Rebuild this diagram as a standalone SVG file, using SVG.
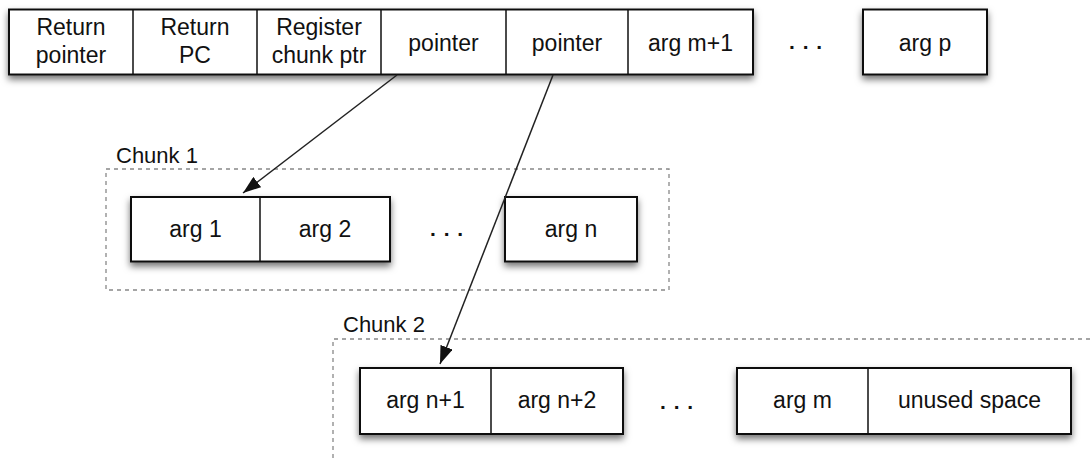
<svg xmlns="http://www.w3.org/2000/svg" width="1092" height="458" viewBox="0 0 1092 458">
  <defs>
    <filter id="shadow" x="-10%" y="-30%" width="120%" height="170%">
      <feDropShadow dx="0" dy="4" stdDeviation="3.5" flood-color="#000" flood-opacity="0.55"/>
    </filter>
    <marker id="arrow" viewBox="0 0 18 13" refX="18" refY="6.5" markerWidth="18" markerHeight="13" markerUnits="userSpaceOnUse" orient="auto">
      <path d="M0,0 L18,6.5 L0,13 Z" fill="#111"/>
    </marker>
  </defs>
  <style>
    .cell { fill: #fff; stroke: #111; stroke-width: 2; }
    .div { stroke: #111; stroke-width: 1.5; }
    .lbl { font-family: "Liberation Sans", Arial, sans-serif; font-size: 23px; fill: #111; text-anchor: middle; }
    .title { font-family: "Liberation Sans", Arial, sans-serif; font-size: 22px; fill: #111; }
    .dots { font-family: "Liberation Sans", Arial, sans-serif; font-size: 21px; font-weight: bold; fill: #111; letter-spacing: 7.8px; }
    .chunk { fill: none; stroke: #888; stroke-width: 1.3; stroke-dasharray: 4 4; }
    .link { fill: none; stroke: #222; stroke-width: 1.5; marker-end: url(#arrow); }
  </style>
  <rect width="1092" height="458" fill="#fff"/>

  <!-- chunk containers -->
  <g id="chunk1">
    <rect class="chunk" x="106" y="169" width="563" height="121"/>
    <text class="title" x="116" y="163">Chunk 1</text>
  </g>
  <g id="chunk2">
    <path class="chunk" d="M333,458 L333,339 L1092,339"/>
    <text class="title" x="343" y="332">Chunk 2</text>
  </g>

  <!-- frame row -->
  <g id="frame" filter="url(#shadow)">
    <rect class="cell" x="9" y="9.5" width="744" height="65"/>
    <line class="div" x1="133" y1="9.5" x2="133" y2="74.5"/>
    <line class="div" x1="257" y1="9.5" x2="257" y2="74.5"/>
    <line class="div" x1="381" y1="9.5" x2="381" y2="74.5"/>
    <line class="div" x1="506" y1="9.5" x2="506" y2="74.5"/>
    <line class="div" x1="628" y1="9.5" x2="628" y2="74.5"/>
  </g>
  <g id="return-pointer"><text class="lbl" x="71" y="35">Return</text><text class="lbl" x="71" y="63">pointer</text></g>
  <g id="return-pc"><text class="lbl" x="195" y="35">Return</text><text class="lbl" x="195" y="63">PC</text></g>
  <g id="register-chunk-ptr"><text class="lbl" x="319" y="35">Register</text><text class="lbl" x="319" y="63">chunk ptr</text></g>
  <g id="pointer1"><text class="lbl" x="443.5" y="51">pointer</text></g>
  <g id="pointer2"><text class="lbl" x="567" y="51">pointer</text></g>
  <g id="arg-m1"><text class="lbl" x="690.5" y="51">arg m+1</text></g>
  <text class="dots" x="789" y="49">...</text>
  <g id="arg-p">
    <rect class="cell" x="863" y="9.5" width="124" height="65" filter="url(#shadow)"/>
    <text class="lbl" x="925" y="51">arg p</text>
  </g>

  <!-- chunk 1 cells -->
  <g id="chunk1-args" filter="url(#shadow)">
    <rect class="cell" x="131" y="197" width="259" height="64.5"/>
    <line class="div" x1="260" y1="197" x2="260" y2="261.5"/>
  </g>
  <g id="arg-1"><text class="lbl" x="195.5" y="237">arg 1</text></g>
  <g id="arg-2"><text class="lbl" x="325" y="237">arg 2</text></g>
  <text class="dots" x="430" y="236">...</text>
  <g id="arg-n">
    <rect class="cell" x="505" y="197" width="132" height="64.5" filter="url(#shadow)"/>
    <text class="lbl" x="571" y="237">arg n</text>
  </g>

  <!-- chunk 2 cells -->
  <g id="chunk2-args" filter="url(#shadow)">
    <rect class="cell" x="360" y="368" width="263" height="66"/>
    <line class="div" x1="491" y1="368" x2="491" y2="434"/>
  </g>
  <g id="arg-n1"><text class="lbl" x="425.5" y="408">arg n+1</text></g>
  <g id="arg-n2"><text class="lbl" x="557" y="408">arg n+2</text></g>
  <text class="dots" x="660" y="409">...</text>
  <g id="tail" filter="url(#shadow)">
    <rect class="cell" x="737" y="368" width="334" height="66"/>
    <line class="div" x1="868" y1="368" x2="868" y2="434"/>
  </g>
  <g id="arg-m"><text class="lbl" x="802.5" y="408">arg m</text></g>
  <g id="unused-space"><text class="lbl" x="969.5" y="408">unused space</text></g>

  <!-- connectors -->
  <g id="connectors">
    <line class="link" x1="397" y1="75" x2="243" y2="193"/>
    <line class="link" x1="553" y1="75" x2="440" y2="364"/>
  </g>
</svg>
